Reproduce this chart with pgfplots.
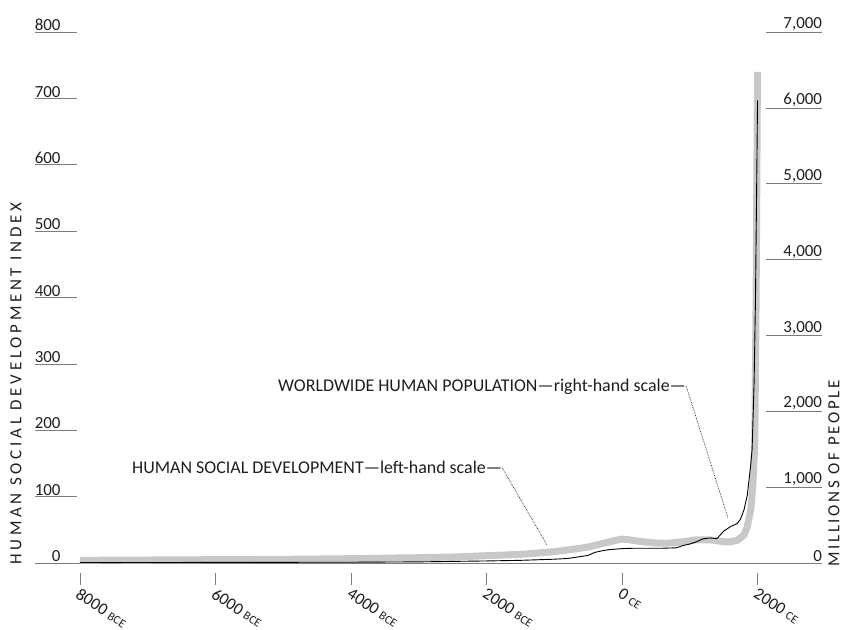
\documentclass[border=0pt]{standalone}
\usepackage{fontspec}
\setmainfont{Carlito}
\newfontfamily\spacedA[LetterSpace=22]{Carlito}
\newfontfamily\spacedB[LetterSpace=16]{Carlito}
\usepackage{pgfplots}
\pgfplotsset{compat=1.18}
\definecolor{sdgray}{RGB}{200,200,200}
\definecolor{tickgray}{RGB}{125,125,125}
\definecolor{ink}{RGB}{30,30,30}
\newcommand{\era}[1]{{\fontsize{12}{12}\selectfont #1}}

% social development index, left-hand scale
\pgfplotstableread{
year  index
-8000 4
-7000 4.5
-6000 5
-5000 5.5
-4000 6.5
-3000 8
-2500 9
-2000 11
-1500 13
-1000 17
-700  21
-500  24
-300  29
-100  34
0     36
100   35
300   32
500   30
700   30
900   32
1100  35
1300  35
1500  32
1600  32
1700  34
1800  42
1850  55
1900  80
1930  115
1960  180
1980  400
2000  740
}\socdev

% world population in millions, right-hand scale
\pgfplotstableread{
year  pop
-8000 5
-6000 8
-4000 10
-3000 15
-2000 27
-1500 35
-1000 50
-800  60
-500  100
-400  140
-300  160
-200  175
0     190
200   195
400   195
600   195
800   200
900   230
1000  250
1100  280
1200  320
1300  330
1400  320
1500  420
1600  480
1700  520
1750  580
1800  700
1850  900
1900  1300
1920  1500
1950  2400
1970  3500
1990  5200
2000  6100
}\popdata

\begin{document}
\begin{tikzpicture}[font=\fontsize{17}{17}\selectfont, color=ink]
\path[use as bounding box] (-77bp,-67bp) rectangle (765bp,563bp);
\begin{axis}[
  at={(0,0)}, anchor=south west, scale only axis,
  width=738bp, height=531bp,
  xmin=-8044, xmax=2849, ymin=0, ymax=800,
  axis x line*=bottom, axis y line*=left,
  x axis line style={draw=tickgray, line width=0.8bp},
  y axis line style={draw=none},
  tick align=outside,
  ytick={0,100,...,800},
  yticklabels={0,100,200,300,400,500,600,700,800},
  ytick style={draw=tickgray, line width=0.6bp, /pgfplots/major tick length=42bp},
  yticklabel style={anchor=south east, inner sep=0pt, xshift=-12bp, yshift=1bp},
  xtick={-8000,-6000,...,2000},
  xticklabels={8000 \era{BCE},6000 \era{BCE},4000 \era{BCE},2000 \era{BCE},0 \era{CE},2000 \era{CE}},
  xtick style={draw=tickgray, line width=0.6bp, /pgfplots/major tick length=12bp, yshift=-10bp},
  xticklabel style={xshift=1bp, yshift=-20bp, rotate=-33, anchor=north west, inner sep=0pt},
  clip=false,
]
\addplot[sdgray, line width=7bp, line join=round] table[x=year, y=index] {\socdev};
\end{axis}
\begin{axis}[
  at={(0,0)}, anchor=south west, scale only axis,
  width=689bp, height=531bp,
  xmin=-8044, xmax=2125, ymin=0, ymax=7000,
  axis y line*=right, hide x axis,
  y axis line style={draw=none},
  tick align=outside,
  ytick={0,1000,...,7000},
  yticklabels={0,{1,000},{2,000},{3,000},{4,000},{5,000},{6,000},{7,000}},
  ytick style={draw=tickgray, line width=0.6bp, /pgfplots/major tick length=56bp},
  yticklabel style={anchor=south east, inner sep=0pt, xshift=52bp, yshift=1bp},
  clip=false,
]
\addplot[black, line width=0.9bp, line join=round] table[x=year, y=pop] {\popdata};
\end{axis}

% axis titles
\node[rotate=90, anchor=west, inner sep=0pt] at (-61bp,-2bp) {\spacedA HUMAN SOCIAL DEVELOPMENT INDEX};
\node[rotate=90, anchor=west, inner sep=0pt] at (757bp,-4bp) {\spacedB MILLIONS OF PEOPLE};

% annotations
\begin{scope}[font=\fontsize{18}{18}\selectfont]
\node[anchor=west, inner sep=0pt, text height=12bp, text depth=0bp] (sd) at (55bp,95bp)
  {HUMAN SOCIAL DEVELOPMENT—left-hand scale—};
\draw[densely dotted, line width=0.7bp] (sd.east) -- (470bp,18bp);
\node[anchor=west, inner sep=0pt, text height=12bp, text depth=0bp] (wp) at (201bp,177bp)
  {WORLDWIDE HUMAN POPULATION—right-hand scale—};
\draw[densely dotted, line width=0.7bp] (wp.east) -- (651bp,45bp);
\end{scope}
\end{tikzpicture}
\end{document}
